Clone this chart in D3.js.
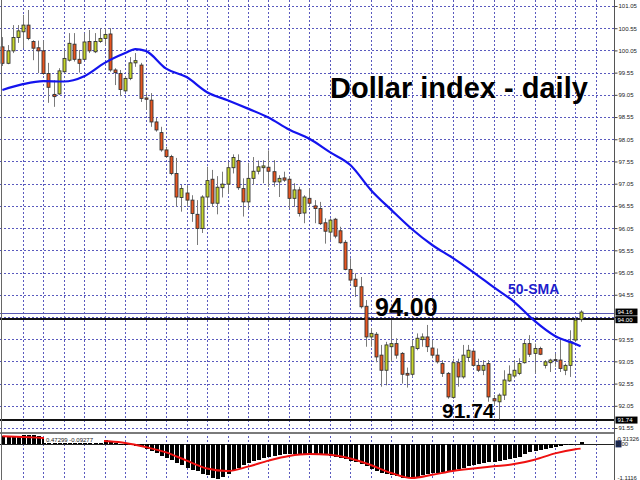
<!DOCTYPE html>
<html><head><meta charset="utf-8">
<script src="https://cdn.jsdelivr.net/npm/d3@7"></script>
<style>html,body{margin:0;padding:0;background:#fff;}svg{display:block;}</style>
</head><body>
<svg id="c" width="640" height="480"></svg>
<script>
// ---- data ----
const openP = [100.13,99.76,100.04,100.34,100.47,100.62,100.25,100.11,100.04,99.53,
99.06,99.07,99.57,99.83,100.19,99.85,99.85,100.25,100.02,100.25,
100.32,100.42,99.61,99.53,99.14,99.42,99.77,99.72,98.98,98.93,
98.44,98.20,97.81,97.66,97.28,96.74,96.84,96.68,96.36,96.04,
96.75,97.15,96.61,96.96,97.04,97.41,97.57,96.94,96.64,97.17,
97.33,97.41,97.42,97.32,97.09,97.18,97.15,96.72,96.91,96.39,
96.72,96.55,96.49,96.17,95.96,96.25,95.99,95.73,95.12,94.90,
94.73,94.29,93.60,93.66,93.19,92.85,93.38,93.45,93.23,92.78,
92.76,93.34,93.54,93.60,93.35,93.19,93.00,92.78,92.24,93.02,
92.70,93.14,93.28,92.96,92.85,93.00,92.21,92.14,92.29,92.61,
92.72,92.78,93.02,93.45,93.23,93.34,92.96,93.02,93.09,93.08,
92.85,92.96,93.53,93.99];
const closeP = [99.76,100.04,100.34,100.49,100.62,100.32,100.10,100.04,99.53,99.22,
99.01,99.59,99.87,100.21,99.85,99.76,100.24,100.04,100.25,100.32,
100.41,99.61,99.55,99.17,99.42,99.77,99.82,98.97,98.95,98.44,
98.26,97.81,97.66,97.28,96.75,96.94,96.68,96.38,96.04,96.75,
97.12,96.61,96.97,97.04,97.41,97.64,96.96,96.64,97.17,97.33,
97.43,97.45,97.33,97.09,97.17,97.13,96.72,96.91,96.38,96.75,
96.61,96.49,96.15,95.98,96.23,95.87,95.72,95.12,94.88,94.74,
94.28,93.60,93.68,93.15,92.85,93.42,93.45,93.19,92.76,92.74,
93.38,93.57,93.60,93.38,93.19,93.04,92.78,92.25,93.02,92.70,
93.19,93.30,92.96,92.85,92.96,92.25,92.16,92.29,92.63,92.76,
92.85,93.00,93.45,93.21,93.34,93.21,93.04,93.08,93.08,92.89,
92.96,93.49,93.98,94.16];
const highP = [100.35,100.17,100.62,100.62,100.85,100.96,100.28,100.27,100.28,99.77,
99.38,99.65,100.06,100.44,100.44,100.06,100.44,100.51,100.44,100.55,
100.55,100.55,99.65,99.61,99.47,99.90,99.99,99.77,99.09,99.09,
98.53,98.33,97.88,97.70,97.63,97.02,97.02,96.79,96.68,96.79,
97.43,97.36,97.22,97.32,97.54,97.71,97.71,97.17,97.52,97.65,
97.57,97.58,97.80,97.58,97.24,97.32,97.21,97.06,96.98,96.79,
96.94,96.68,96.64,96.27,96.27,96.28,96.08,95.78,95.37,95.03,
94.95,94.43,93.80,93.71,93.42,93.49,93.98,93.57,93.26,92.91,
93.53,93.68,93.68,93.87,93.53,93.34,93.08,92.81,93.11,93.11,
93.42,93.42,93.30,93.11,93.08,93.08,92.29,92.33,92.85,92.96,
93.08,93.12,93.53,93.64,93.45,93.38,93.08,93.11,93.23,93.53,
93.00,93.75,94.02,94.20];
const lowP = [99.70,99.74,99.99,100.22,100.10,100.28,99.83,99.54,99.50,98.87,
98.78,99.05,99.54,99.80,99.80,99.55,99.83,99.99,99.99,100.22,
100.17,99.57,99.27,99.02,99.11,99.38,99.68,98.89,98.71,98.33,
98.22,97.77,97.63,97.24,96.53,96.42,96.53,96.19,95.67,95.94,
96.51,96.53,96.36,96.74,96.83,97.28,96.91,96.31,96.49,97.02,
97.26,97.06,96.98,96.98,96.75,97.09,96.49,96.53,96.31,96.16,
96.53,96.16,96.12,95.70,95.78,95.82,95.70,95.10,94.80,94.50,
94.24,93.38,93.38,93.03,92.48,92.51,93.04,93.11,92.55,92.46,
92.70,93.30,93.38,93.26,93.12,93.00,92.70,92.21,92.21,92.48,
92.66,93.04,92.93,92.81,92.74,92.14,92.06,91.74,92.18,92.59,
92.67,92.74,93.00,93.15,92.78,93.19,92.89,92.81,92.93,92.81,
92.74,92.70,93.49,93.94];
// 50-SMA read at every 4th bar
const smaIdx = [0,4,8,12,16,20,24,26,28,32,36,40,44,48,52,56,60,64,68,72,76,80,84,88,92,96,100,104,108,112,113];
const smaVal = [99.16,99.29,99.36,99.35,99.47,99.77,99.99,100.08,100.04,99.64,99.45,99.11,98.93,98.74,98.54,98.27,98.06,97.76,97.47,96.91,96.46,96.03,95.67,95.38,95.06,94.72,94.39,93.96,93.62,93.44,93.39];
// MACD main (histogram) per bar
const macdHist = [0.25,0.25,0.24,0.25,0.27,0.28,0.27,0.25,0.22,0.18,
0.14,0.13,0.13,0.14,0.13,0.11,0.12,0.12,0.11,0.12,
0.12,0.08,0.04,-0.02,-0.03,-0.04,-0.06,-0.11,-0.15,-0.23,
-0.30,-0.37,-0.44,-0.52,-0.60,-0.68,-0.76,-0.82,-0.87,-0.95,
-1.00,-1.08,-1.11,-1.06,-0.95,-0.83,-0.76,-0.67,-0.60,-0.55,
-0.50,-0.45,-0.40,-0.37,-0.35,-0.33,-0.32,-0.32,-0.32,-0.32,
-0.32,-0.33,-0.34,-0.36,-0.39,-0.42,-0.45,-0.49,-0.53,-0.58,
-0.64,-0.71,-0.78,-0.85,-0.91,-0.95,-0.99,-1.03,-1.07,-1.09,
-1.10,-1.09,-0.98,-0.96,-0.93,-0.91,-0.88,-0.86,-0.83,-0.80,
-0.75,-0.70,-0.66,-0.63,-0.60,-0.58,-0.56,-0.54,-0.52,-0.49,
-0.46,-0.42,-0.33,-0.26,-0.22,-0.19,-0.16,-0.13,-0.10,-0.07,
-0.05,-0.03,-0.01,0.06];
// MACD signal read at every 4th bar
const sigIdx = [0,4,8,12,16,20,24,28,32,36,40,44,48,52,56,60,64,68,72,76,80,84,88,92,96,100,104,108,112,113];
const sigVal = [0.24,0.22,0.19,0.16,0.13,0.09,0.03,-0.10,-0.27,-0.53,-0.78,-0.86,-0.72,-0.53,-0.38,-0.32,-0.34,-0.46,-0.67,-0.92,-1.08,-0.98,-0.86,-0.78,-0.71,-0.64,-0.50,-0.30,-0.17,-0.15];
const priceTicks = [101.05,100.55,100.05,99.55,99.05,98.55,98.05,97.55,97.05,96.55,96.05,95.55,95.05,94.55,94.05,93.55,93.05,92.55,92.05,91.55];
const hiddenTicks = [94.05];
const levels = [94.00, 91.74];
const bidPrice = 94.16;
const macdTicks = [0.31326, -1.1116];
const macdLabel = "0.47299 -0.09277";
const title = "Dollar index - daily";
const smaName = "50-SMA";

// ---- drawing ----
const svg = d3.select("#c");
const W = 640, H = 480, axisX = 614.5;
const mainTop = 0, mainBot = 432, subTop = 434, subBot = 479;
const n = openP.length;
const x = d3.scaleLinear().domain([0, n - 1]).range([2.4, 580.6]);
const y = d3.scaleLinear().domain([91.55, 101.05]).range([428, 6]);
const ym = d3.scaleLinear().domain([-1.1116, 0.31326]).range([subBot, subTop]);
const gridColor = "#4848b8";
const FF = "Liberation Sans, Arial, sans-serif";

svg.append("rect").attr("width", W).attr("height", H).attr("fill", "#fff");

const defs = svg.append("defs");
defs.append("clipPath").attr("id", "cm").append("rect").attr("x", 0).attr("y", mainTop).attr("width", axisX).attr("height", mainBot - mainTop);
defs.append("clipPath").attr("id", "cs").append("rect").attr("x", 0).attr("y", subTop).attr("width", axisX).attr("height", subBot - subTop + 1);

// vertical grid (both panels)
const vIdx = d3.range(4, 117, 4);
svg.append("g").selectAll("line").data(vIdx).join("line")
  .attr("x1", d => Math.round(x(d)) + 0.5).attr("x2", d => Math.round(x(d)) + 0.5)
  .attr("y1", 0).attr("y2", H)
  .attr("stroke", gridColor).attr("stroke-width", 1).attr("stroke-dasharray", "2,2").attr("opacity", 0.9);

// horizontal grid main
svg.append("g").selectAll("line").data(priceTicks).join("line")
  .attr("x1", 0).attr("x2", axisX)
  .attr("y1", d => Math.round(y(d)) + 0.5).attr("y2", d => Math.round(y(d)) + 0.5)
  .attr("stroke", gridColor).attr("stroke-width", 1).attr("stroke-dasharray", "2,2").attr("opacity", 0.9);

// bid line
svg.append("line").attr("x1", 0).attr("x2", axisX)
  .attr("y1", Math.round(y(bidPrice)) + 1.5).attr("y2", Math.round(y(bidPrice)) + 1.5)
  .attr("stroke", "#5a5ab4").attr("stroke-width", 1);

// horizontal levels
svg.append("g").selectAll("line").data(levels).join("line")
  .attr("x1", 0).attr("x2", axisX)
  .attr("y1", d => Math.round(y(d))).attr("y2", d => Math.round(y(d)))
  .attr("stroke", "#111").attr("stroke-width", 2);

// candles
const cg = svg.append("g").attr("clip-path", "url(#cm)");
const idx = d3.range(n);
cg.selectAll("line.w").data(idx).join("line").attr("class", "w")
  .attr("x1", i => Math.round(x(i)) + 0.5).attr("x2", i => Math.round(x(i)) + 0.5)
  .attr("y1", i => y(highP[i])).attr("y2", i => y(lowP[i]))
  .attr("stroke", "#7a7a7a").attr("stroke-width", 1);
cg.selectAll("rect.b").data(idx).join("rect").attr("class", "b")
  .attr("x", i => Math.round(x(i)) - 1)
  .attr("width", 3)
  .attr("y", i => y(Math.max(openP[i], closeP[i])))
  .attr("height", i => Math.max(1, Math.abs(y(openP[i]) - y(closeP[i]))))
  .attr("fill", i => closeP[i] >= openP[i] ? "#c6d62a" : "#e8551f")
  .attr("stroke", "#333").attr("stroke-width", 0.9);

// SMA
cg.append("path").datum(smaIdx.map((d, k) => [d, smaVal[k]]))
  .attr("d", d3.line().x(d => x(d[0])).y(d => y(d[1])).curve(d3.curveMonotoneX))
  .attr("fill", "none").attr("stroke", "#1414ee").attr("stroke-width", 2.2);

// texts
svg.append("text").attr("x", 330).attr("y", 98).text(title)
  .attr("font-family", FF).attr("font-weight", "bold")
  .attr("font-size", 29).attr("fill", "#000");
svg.append("text").attr("x", 375).attr("y", 316).text(levels[0].toFixed(2))
  .attr("font-family", FF).attr("font-weight", "bold")
  .attr("font-size", 25).attr("fill", "#000");
svg.append("text").attr("x", 442).attr("y", 418).text(levels[1].toFixed(2))
  .attr("font-family", FF).attr("font-weight", "bold")
  .attr("font-size", 21).attr("fill", "#000");
svg.append("text").attr("x", 508).attr("y", 294).text(smaName)
  .attr("font-family", FF).attr("font-weight", "bold")
  .attr("font-size", 14).attr("fill", "#1e1ecc");

// panel separator
svg.append("rect").attr("x", 0).attr("y", 432).attr("width", axisX).attr("height", 2).attr("fill", "#7a7a7a");

// MACD panel
const sg = svg.append("g").attr("clip-path", "url(#cs)");
sg.append("line").attr("x1", 0).attr("x2", axisX).attr("y1", Math.round(ym(0)) + 0.5).attr("y2", Math.round(ym(0)) + 0.5)
  .attr("stroke", "#222").attr("stroke-width", 1);
sg.selectAll("rect.h").data(idx).join("rect").attr("class", "h")
  .attr("x", i => Math.round(x(i)) - 1.5)
  .attr("width", 4)
  .attr("y", i => Math.min(ym(0), ym(macdHist[i])))
  .attr("height", i => Math.abs(ym(macdHist[i]) - ym(0)))
  .attr("fill", "#000").attr("shape-rendering", "crispEdges");
sg.append("path").datum(sigIdx.map((d, k) => [d, sigVal[k]]))
  .attr("d", d3.line().x(d => x(d[0])).y(d => ym(d[1])).curve(d3.curveMonotoneX))
  .attr("fill", "none").attr("stroke", "#ee1010").attr("stroke-width", 2);
svg.append("rect").attr("x", 44).attr("y", 436).attr("width", 60).attr("height", 7).attr("fill", "#fff");
svg.append("text").attr("x", 46).attr("y", 442).text(macdLabel)
  .attr("font-family", FF).attr("font-size", 6).attr("fill", "#222");

// left border
svg.append("line").attr("x1", 1.5).attr("x2", 1.5).attr("y1", 0).attr("y2", H).attr("stroke", "#666").attr("stroke-width", 1);

// right axis (price)
const ax = d3.axisRight(y).tickValues(priceTicks).tickSize(3).tickPadding(1)
  .tickFormat(d => hiddenTicks.includes(d) ? "" : d3.format(".2f")(d));
const ag = svg.append("g").attr("transform", `translate(${axisX},0)`).call(ax);
ag.select(".domain").remove();
ag.selectAll("line").attr("stroke", "#444");
ag.selectAll("text").attr("font-family", FF).attr("font-size", 6).attr("fill", "#222");

// MACD axis
const am = d3.axisRight(ym).tickValues(macdTicks).tickSize(0).tickPadding(3)
  .tickFormat(d => String(d));
const amg = svg.append("g").attr("transform", `translate(${axisX},0)`).call(am);
amg.select(".domain").remove();
amg.selectAll("text").attr("font-family", FF).attr("font-size", 6).attr("fill", "#222")
  .attr("dy", (d, k) => k === 0 ? "1.1em" : "0.1em");

svg.append("line").attr("x1", axisX).attr("x2", axisX).attr("y1", 0).attr("y2", H).attr("stroke", "#555").attr("stroke-width", 1);

// price boxes
function box(v, yy, txt) {
  svg.append("rect").attr("x", axisX + 1).attr("y", yy - 3.5).attr("width", 22).attr("height", 7).attr("fill", "#000");
  svg.append("text").attr("x", axisX + 3).attr("y", yy + 2.2).text(txt)
    .attr("font-family", FF).attr("font-size", 6).attr("fill", "#fff");
}
box(bidPrice, y(bidPrice), bidPrice.toFixed(2));
levels.forEach(v => box(v, y(v) + 0.5, v.toFixed(2)));
svg.append("rect").attr("x", axisX + 1).attr("y", ym(0) - 3.5).attr("width", 6).attr("height", 7).attr("fill", "#1a2a5a");
svg.append("text").attr("x", axisX + 2).attr("y", ym(0) + 2.2).text("0.00")
  .attr("font-family", FF).attr("font-size", 6).attr("fill", "#222");
</script>
</body></html>
